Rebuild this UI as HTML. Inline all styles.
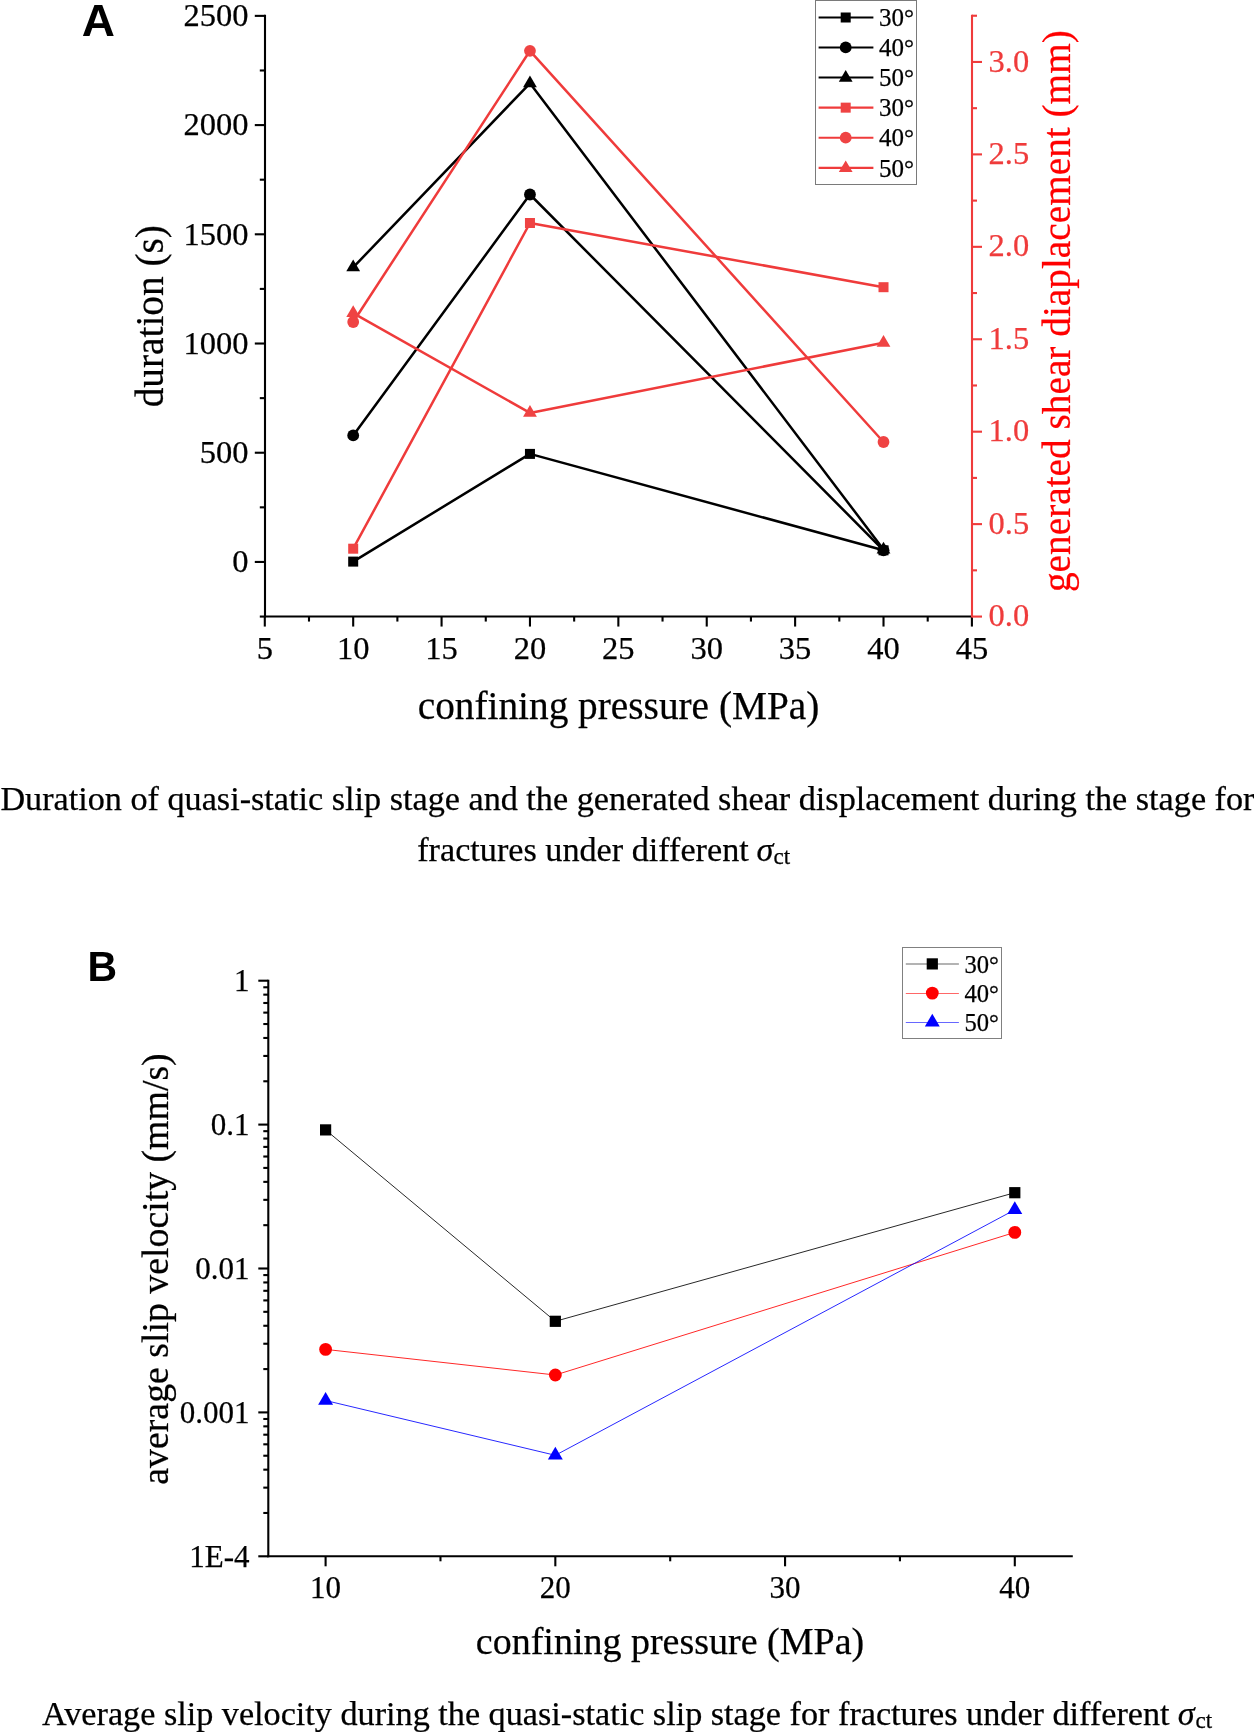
<!DOCTYPE html>
<html><head><meta charset="utf-8"><title>Figure</title>
<style>html,body{margin:0;padding:0;background:#fff;} body{width:1254px;height:1732px;overflow:hidden;font-family:"Liberation Serif",serif;} svg{display:block;will-change:transform;} text{stroke:#000;stroke-width:0.25px;} .r text,text.r{stroke:#EF3B3B;} text.pr{stroke:#f00;} text.ns{stroke:none;}</style>
</head><body>
<svg width="1254" height="1732" viewBox="0 0 1254 1732">
<rect width="1254" height="1732" fill="#fff"/>
<g stroke="#000" stroke-width="2.1" fill="none" shape-rendering="auto">
<line x1="265.0" y1="14.870000000000005" x2="265.0" y2="617.558"/>
<line x1="264.0" y1="616.558" x2="972.0" y2="616.558"/>
<line x1="259.8" y1="616.56" x2="265.0" y2="616.56"/>
<line x1="254.8" y1="561.95" x2="265.0" y2="561.95"/>
<line x1="259.8" y1="507.34" x2="265.0" y2="507.34"/>
<line x1="254.8" y1="452.73" x2="265.0" y2="452.73"/>
<line x1="259.8" y1="398.13" x2="265.0" y2="398.13"/>
<line x1="254.8" y1="343.52" x2="265.0" y2="343.52"/>
<line x1="259.8" y1="288.91" x2="265.0" y2="288.91"/>
<line x1="254.8" y1="234.30" x2="265.0" y2="234.30"/>
<line x1="259.8" y1="179.69" x2="265.0" y2="179.69"/>
<line x1="254.8" y1="125.09" x2="265.0" y2="125.09"/>
<line x1="259.8" y1="70.48" x2="265.0" y2="70.48"/>
<line x1="254.8" y1="15.87" x2="265.0" y2="15.87"/>
<line x1="264.80" y1="616.558" x2="264.80" y2="626.558"/>
<line x1="308.99" y1="616.558" x2="308.99" y2="621.558"/>
<line x1="353.19" y1="616.558" x2="353.19" y2="626.558"/>
<line x1="397.38" y1="616.558" x2="397.38" y2="621.558"/>
<line x1="441.57" y1="616.558" x2="441.57" y2="626.558"/>
<line x1="485.77" y1="616.558" x2="485.77" y2="621.558"/>
<line x1="529.96" y1="616.558" x2="529.96" y2="626.558"/>
<line x1="574.16" y1="616.558" x2="574.16" y2="621.558"/>
<line x1="618.35" y1="616.558" x2="618.35" y2="626.558"/>
<line x1="662.54" y1="616.558" x2="662.54" y2="621.558"/>
<line x1="706.74" y1="616.558" x2="706.74" y2="626.558"/>
<line x1="750.93" y1="616.558" x2="750.93" y2="621.558"/>
<line x1="795.12" y1="616.558" x2="795.12" y2="626.558"/>
<line x1="839.32" y1="616.558" x2="839.32" y2="621.558"/>
<line x1="883.51" y1="616.558" x2="883.51" y2="626.558"/>
<line x1="927.71" y1="616.558" x2="927.71" y2="621.558"/>
<line x1="971.90" y1="616.558" x2="971.90" y2="626.558"/>
</g>
<g stroke="#EF3B3B" stroke-width="2.1" fill="none">
<line x1="972.0" y1="14.74" x2="972.0" y2="617.558"/>
<line x1="972.0" y1="616.56" x2="982.0" y2="616.56"/>
<line x1="972.0" y1="570.34" x2="977.0" y2="570.34"/>
<line x1="972.0" y1="524.12" x2="982.0" y2="524.12"/>
<line x1="972.0" y1="477.91" x2="977.0" y2="477.91"/>
<line x1="972.0" y1="431.69" x2="982.0" y2="431.69"/>
<line x1="972.0" y1="385.48" x2="977.0" y2="385.48"/>
<line x1="972.0" y1="339.26" x2="982.0" y2="339.26"/>
<line x1="972.0" y1="293.04" x2="977.0" y2="293.04"/>
<line x1="972.0" y1="246.83" x2="982.0" y2="246.83"/>
<line x1="972.0" y1="200.61" x2="977.0" y2="200.61"/>
<line x1="972.0" y1="154.39" x2="982.0" y2="154.39"/>
<line x1="972.0" y1="108.18" x2="977.0" y2="108.18"/>
<line x1="972.0" y1="61.96" x2="982.0" y2="61.96"/>
<line x1="972.0" y1="15.74" x2="977.0" y2="15.74"/>
</g>
<g font-family="Liberation Serif, serif" font-size="32.5" text-anchor="end" fill="#000">
<text x="248.5" y="572.15">0</text>
<text x="248.5" y="462.93">500</text>
<text x="248.5" y="353.72">1000</text>
<text x="248.5" y="244.50">1500</text>
<text x="248.5" y="135.29">2000</text>
<text x="248.5" y="26.07">2500</text>
</g>
<g font-family="Liberation Serif, serif" font-size="32.5" text-anchor="middle" fill="#000">
<text x="264.80" y="659.2">5</text>
<text x="353.19" y="659.2">10</text>
<text x="441.57" y="659.2">15</text>
<text x="529.96" y="659.2">20</text>
<text x="618.35" y="659.2">25</text>
<text x="706.74" y="659.2">30</text>
<text x="795.12" y="659.2">35</text>
<text x="883.51" y="659.2">40</text>
<text x="971.90" y="659.2">45</text>
</g>
<g font-family="Liberation Serif, serif" font-size="32.5" text-anchor="start" fill="#EF3B3B" class="r">
<text x="988.5" y="626.16">0.0</text>
<text x="988.5" y="533.73">0.5</text>
<text x="988.5" y="441.29">1.0</text>
<text x="988.5" y="348.86">1.5</text>
<text x="988.5" y="256.43">2.0</text>
<text x="988.5" y="163.99">2.5</text>
<text x="988.5" y="71.56">3.0</text>
</g>
<text font-family="Liberation Serif, serif" font-size="39.3" text-anchor="middle" x="618.5" y="718.5">confining pressure (MPa)</text>
<text font-family="Liberation Serif, serif" font-size="39.3" text-anchor="middle" transform="translate(163.4,316.2) rotate(-90)">duration (s)</text>
<text font-family="Liberation Serif, serif" font-size="39.3" text-anchor="middle" fill="#FF0000" class="pr" transform="translate(1070,311.1) rotate(-90)">generated shear diaplacement (mm)</text>
<text class="ns" font-family="Liberation Sans, sans-serif" font-weight="bold" font-size="44" transform="translate(81.8,35.8) scale(1.045,1)">A</text>
<g stroke="#000" stroke-width="2.5" fill="none" stroke-linejoin="round">
<polyline points="353.19,561.60 529.96,453.90 883.51,550.30"/>
<polyline points="353.19,435.40 529.96,194.50 883.51,550.30"/>
<polyline points="353.19,267.40 529.96,83.30 883.51,549.50"/>
</g>
<rect x="348.19" y="556.60" width="10" height="10" fill="#000"/>
<circle cx="353.19" cy="435.40" r="5.9" fill="#000"/>
<polygon points="353.19,259.60 360.09,271.30 346.29,271.30" fill="#000"/>
<rect x="524.96" y="448.90" width="10" height="10" fill="#000"/>
<circle cx="529.96" cy="194.50" r="5.9" fill="#000"/>
<polygon points="529.96,75.50 536.86,87.20 523.06,87.20" fill="#000"/>
<rect x="878.51" y="545.30" width="10" height="10" fill="#000"/>
<circle cx="883.51" cy="550.30" r="5.9" fill="#000"/>
<polygon points="883.51,541.70 890.41,553.40 876.61,553.40" fill="#000"/>
<g stroke="#EF3B3B" stroke-width="2.5" fill="none" stroke-linejoin="round">
<polyline points="353.19,548.70 529.96,223.00 883.51,287.20"/>
<polyline points="353.19,322.00 529.96,50.80 883.51,442.00"/>
<polyline points="353.19,313.10 529.96,412.90 883.51,342.80"/>
</g>
<rect x="348.19" y="543.70" width="10" height="10" fill="#EF4343"/>
<circle cx="353.19" cy="322.00" r="5.9" fill="#EF4343"/>
<polygon points="353.19,305.30 360.09,317.00 346.29,317.00" fill="#EF4343"/>
<rect x="524.96" y="218.00" width="10" height="10" fill="#EF4343"/>
<circle cx="529.96" cy="50.80" r="5.9" fill="#EF4343"/>
<polygon points="529.96,405.10 536.86,416.80 523.06,416.80" fill="#EF4343"/>
<rect x="878.51" y="282.20" width="10" height="10" fill="#EF4343"/>
<circle cx="883.51" cy="442.00" r="5.9" fill="#EF4343"/>
<polygon points="883.51,335.00 890.41,346.70 876.61,346.70" fill="#EF4343"/>
<rect x="815.5" y="0.5" width="101" height="184" fill="#fff" stroke="#7a7a7a" stroke-width="1"/>
<line x1="818.6" y1="17.5" x2="873.4" y2="17.5" stroke="#000" stroke-width="2.1"/>
<rect x="840.70" y="12.50" width="10" height="10" fill="#000"/>
<text font-family="Liberation Serif, serif" font-size="25" x="879" y="26.10">30°</text>
<line x1="818.6" y1="47.45" x2="873.4" y2="47.45" stroke="#000" stroke-width="2.1"/>
<circle cx="845.70" cy="47.45" r="5.9" fill="#000"/>
<text font-family="Liberation Serif, serif" font-size="25" x="879" y="56.05">40°</text>
<line x1="818.6" y1="77.55" x2="873.4" y2="77.55" stroke="#000" stroke-width="2.1"/>
<polygon points="845.70,70.05 852.60,81.75 838.80,81.75" fill="#000"/>
<text font-family="Liberation Serif, serif" font-size="25" x="879" y="86.15">50°</text>
<line x1="818.6" y1="107.65" x2="873.4" y2="107.65" stroke="#EF3B3B" stroke-width="2.1"/>
<rect x="840.70" y="102.65" width="10" height="10" fill="#EF4343"/>
<text font-family="Liberation Serif, serif" font-size="25" x="879" y="116.25">30°</text>
<line x1="818.6" y1="137.7" x2="873.4" y2="137.7" stroke="#EF3B3B" stroke-width="2.1"/>
<circle cx="845.70" cy="137.70" r="5.9" fill="#EF4343"/>
<text font-family="Liberation Serif, serif" font-size="25" x="879" y="146.30">40°</text>
<line x1="818.6" y1="167.9" x2="873.4" y2="167.9" stroke="#EF3B3B" stroke-width="2.1"/>
<polygon points="845.70,160.40 852.60,172.10 838.80,172.10" fill="#EF4343"/>
<text font-family="Liberation Serif, serif" font-size="25" x="879" y="176.50">50°</text>
<text font-family="Liberation Serif, serif" font-size="34.2" x="0.4" y="809.8">Duration of quasi-static slip stage and the generated shear displacement during the stage for</text>
<text font-family="Liberation Serif, serif" font-size="34.2" x="417.2" y="860.8">fractures under different </text>
<text font-family="Liberation Serif, serif" font-size="34.2" font-style="italic" x="756.5" y="860.8">σ</text>
<text font-family="Liberation Serif, serif" font-size="23" x="773.6" y="864.2">ct</text>
<g stroke="#000" stroke-width="2.1" fill="none">
<line x1="268.3" y1="979.7" x2="268.3" y2="1557.3"/>
<line x1="267.3" y1="1556.30" x2="1072.8" y2="1556.30"/>
<line x1="258.3" y1="980.70" x2="268.3" y2="980.70"/>
<line x1="263.3" y1="1081.28" x2="268.3" y2="1081.28"/>
<line x1="263.3" y1="1055.94" x2="268.3" y2="1055.94"/>
<line x1="263.3" y1="1037.96" x2="268.3" y2="1037.96"/>
<line x1="263.3" y1="1024.02" x2="268.3" y2="1024.02"/>
<line x1="263.3" y1="1012.62" x2="268.3" y2="1012.62"/>
<line x1="263.3" y1="1002.99" x2="268.3" y2="1002.99"/>
<line x1="263.3" y1="994.65" x2="268.3" y2="994.65"/>
<line x1="263.3" y1="987.28" x2="268.3" y2="987.28"/>
<line x1="258.3" y1="1124.60" x2="268.3" y2="1124.60"/>
<line x1="263.3" y1="1225.18" x2="268.3" y2="1225.18"/>
<line x1="263.3" y1="1199.84" x2="268.3" y2="1199.84"/>
<line x1="263.3" y1="1181.86" x2="268.3" y2="1181.86"/>
<line x1="263.3" y1="1167.92" x2="268.3" y2="1167.92"/>
<line x1="263.3" y1="1156.52" x2="268.3" y2="1156.52"/>
<line x1="263.3" y1="1146.89" x2="268.3" y2="1146.89"/>
<line x1="263.3" y1="1138.55" x2="268.3" y2="1138.55"/>
<line x1="263.3" y1="1131.18" x2="268.3" y2="1131.18"/>
<line x1="258.3" y1="1268.50" x2="268.3" y2="1268.50"/>
<line x1="263.3" y1="1369.08" x2="268.3" y2="1369.08"/>
<line x1="263.3" y1="1343.74" x2="268.3" y2="1343.74"/>
<line x1="263.3" y1="1325.76" x2="268.3" y2="1325.76"/>
<line x1="263.3" y1="1311.82" x2="268.3" y2="1311.82"/>
<line x1="263.3" y1="1300.42" x2="268.3" y2="1300.42"/>
<line x1="263.3" y1="1290.79" x2="268.3" y2="1290.79"/>
<line x1="263.3" y1="1282.45" x2="268.3" y2="1282.45"/>
<line x1="263.3" y1="1275.08" x2="268.3" y2="1275.08"/>
<line x1="258.3" y1="1412.40" x2="268.3" y2="1412.40"/>
<line x1="263.3" y1="1512.98" x2="268.3" y2="1512.98"/>
<line x1="263.3" y1="1487.64" x2="268.3" y2="1487.64"/>
<line x1="263.3" y1="1469.66" x2="268.3" y2="1469.66"/>
<line x1="263.3" y1="1455.72" x2="268.3" y2="1455.72"/>
<line x1="263.3" y1="1444.32" x2="268.3" y2="1444.32"/>
<line x1="263.3" y1="1434.69" x2="268.3" y2="1434.69"/>
<line x1="263.3" y1="1426.35" x2="268.3" y2="1426.35"/>
<line x1="263.3" y1="1418.98" x2="268.3" y2="1418.98"/>
<line x1="258.3" y1="1556.30" x2="268.3" y2="1556.30"/>
<line x1="325.60" y1="1556.30" x2="325.60" y2="1566.30"/>
<line x1="555.33" y1="1556.30" x2="555.33" y2="1566.30"/>
<line x1="785.07" y1="1556.30" x2="785.07" y2="1566.30"/>
<line x1="1014.80" y1="1556.30" x2="1014.80" y2="1566.30"/>
<line x1="440.47" y1="1556.30" x2="440.47" y2="1561.30"/>
<line x1="670.20" y1="1556.30" x2="670.20" y2="1561.30"/>
<line x1="899.93" y1="1556.30" x2="899.93" y2="1561.30"/>
</g>
<g font-family="Liberation Serif, serif" font-size="31" text-anchor="end">
<text x="249.5" y="990.90">1</text>
<text x="249.5" y="1134.80">0.1</text>
<text x="249.5" y="1278.70">0.01</text>
<text x="249.5" y="1422.60">0.001</text>
<text x="249.5" y="1566.50">1E-4</text>
</g>
<g font-family="Liberation Serif, serif" font-size="31" text-anchor="middle">
<text x="325.60" y="1597.5">10</text>
<text x="555.33" y="1597.5">20</text>
<text x="785.07" y="1597.5">30</text>
<text x="1014.80" y="1597.5">40</text>
</g>
<text font-family="Liberation Serif, serif" font-size="38" text-anchor="middle" x="670" y="1653.8">confining pressure (MPa)</text>
<text font-family="Liberation Serif, serif" font-size="37.8" text-anchor="middle" transform="translate(168,1269) rotate(-90)">average slip velocity (mm/s)</text>
<text class="ns" font-family="Liberation Sans, sans-serif" font-weight="bold" font-size="43.3" transform="translate(87.5,981.4) scale(0.945,1)">B</text>
<polyline points="325.60,1129.90 555.33,1321.30 1014.80,1192.70" fill="none" stroke="#000" stroke-width="0.85" />
<polyline points="325.60,1349.40 555.33,1375.00 1014.80,1232.40" fill="none" stroke="#FF0000" stroke-width="0.85" />
<polyline points="325.60,1400.50 555.33,1455.30 1014.80,1209.80" fill="none" stroke="#0000FF" stroke-width="0.85" />
<rect x="320.00" y="1124.30" width="11.2" height="11.2" fill="#000"/>
<rect x="549.73" y="1315.70" width="11.2" height="11.2" fill="#000"/>
<rect x="1009.20" y="1187.10" width="11.2" height="11.2" fill="#000"/>
<circle cx="325.60" cy="1349.40" r="6.4" fill="#FF0000"/>
<circle cx="555.33" cy="1375.00" r="6.4" fill="#FF0000"/>
<circle cx="1014.80" cy="1232.40" r="6.4" fill="#FF0000"/>
<polygon points="325.60,1391.90 333.05,1404.80 318.15,1404.80" fill="#0000FF"/>
<polygon points="555.33,1446.70 562.78,1459.60 547.88,1459.60" fill="#0000FF"/>
<polygon points="1014.80,1201.20 1022.25,1214.10 1007.35,1214.10" fill="#0000FF"/>
<rect x="902.5" y="947.5" width="99" height="91" fill="#fff" stroke="#808080" stroke-width="1"/>
<line x1="905.8" y1="964.0" x2="958.9" y2="964.0" stroke="#000" stroke-width="0.6"/>
<rect x="926.70" y="958.30" width="11.2" height="11.2" fill="#000"/>
<text font-family="Liberation Serif, serif" font-size="24.6" x="964.5" y="973.00">30°</text>
<line x1="905.8" y1="993.5" x2="958.9" y2="993.5" stroke="#FF0000" stroke-width="0.6"/>
<circle cx="932.30" cy="993.10" r="6.4" fill="#FF0000"/>
<text font-family="Liberation Serif, serif" font-size="24.6" x="964.5" y="1002.20">40°</text>
<line x1="905.8" y1="1022.5" x2="958.9" y2="1022.5" stroke="#0000FF" stroke-width="0.6"/>
<polygon points="932.30,1013.70 939.75,1026.60 924.85,1026.60" fill="#0000FF"/>
<text font-family="Liberation Serif, serif" font-size="24.6" x="964.5" y="1031.40">50°</text>
<text font-family="Liberation Serif, serif" font-size="34.2" x="42.1" y="1724.6">Average slip velocity during the quasi-static slip stage for fractures under different </text>
<text font-family="Liberation Serif, serif" font-size="34.2" font-style="italic" x="1177.8" y="1724.6">σ</text>
<text font-family="Liberation Serif, serif" font-size="23" x="1195.6" y="1728">ct</text>
</svg>
</body></html>
